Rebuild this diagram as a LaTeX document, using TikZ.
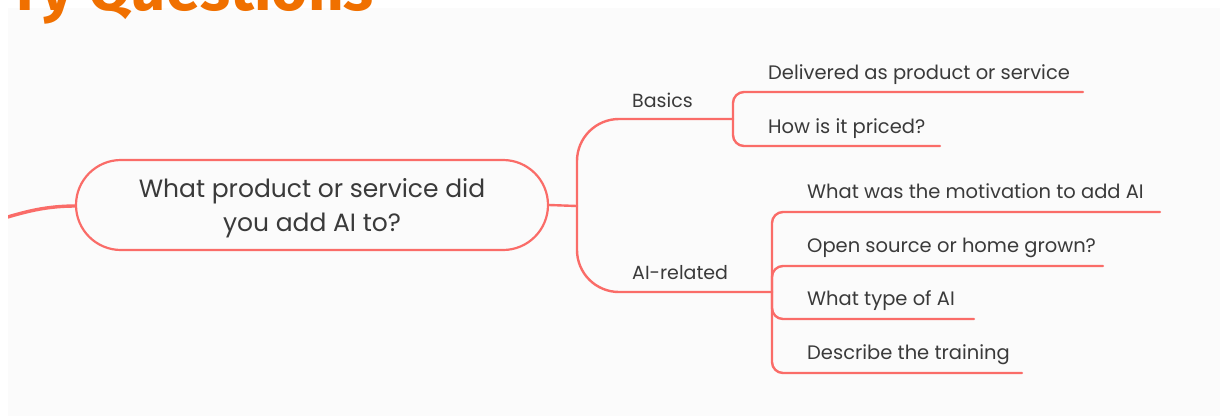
\documentclass[tikz,border=0pt]{standalone}
\usepackage{fontspec}
\setmainfont{Poppins}
\newfontfamily\titlefont{Fira Sans}
\usetikzlibrary{arrows, shapes}
\usetikzlibrary{calc}
\usetikzlibrary{positioning}
\definecolor{salmon}{RGB}{250,108,104}
\definecolor{inkgray}{RGB}{58,58,58}
\definecolor{paper}{RGB}{251,251,251}
\definecolor{titleorange}{RGB}{240,112,0}

\begin{document}
\begin{tikzpicture}[line cap=round,line join=round,x=1pt,y=-1pt,
  branch/.style={draw=salmon,line width=2.4pt},
  central/.style={draw=salmon,line width=2.2pt,fill=paper,rounded corners=45pt,minimum width=472pt,minimum height=90pt},
  centraltext/.style={align=center,font=\fontsize{25}{34}\selectfont,text=inkgray,inner sep=0pt},
  topic/.style={anchor=base west,font=\fontsize{19}{22}\selectfont,text=inkgray,inner sep=0pt},
  leaf/.style={anchor=base west,font=\fontsize{19.5}{22}\selectfont,text=inkgray,inner sep=0pt}]
\useasboundingbox (0,0) rectangle (1220,416);
\clip (0,0) rectangle (1220,416);
\fill[white] (0,0) rectangle (1220,416);
\fill[paper] (8,8) rectangle (1220,416);
\node[anchor=base east,text=titleorange,font=\titlefont\bfseries\fontsize{62}{70}\selectfont,inner sep=0pt] (title) at (374,10) {ry Questions};
\coordinate (offleft) at (-30,228);
\coordinate (hub) at (577,206);
\coordinate (basicsEnd) at (733,119);
\coordinate (airelEnd) at (772,292);
\coordinate (l1) at (1083,92);
\coordinate (l2) at (940,146);
\coordinate (l3) at (1160,212);
\coordinate (l4) at (1103,266);
\coordinate (l5) at (974,319);
\coordinate (l6) at (1022,373);
\begin{scope}
\clip (8,8) rectangle (1220,416);
\draw[draw=salmon,line width=3.4pt] (offleft) to[out=15,in=180] (76,206);
\end{scope}
\node[central] (root) at (312,205) {};
\node[centraltext] (roottext) at (312,208) {What product or service did\\you add AI to?};
\draw[branch] (root.east) -- (hub);
\draw[branch,rounded corners=42pt] (hub) |- (basicsEnd);
\draw[branch,rounded corners=42pt] (hub) |- (airelEnd);
\draw[branch,rounded corners=11pt] (basicsEnd) |- (l1);
\draw[branch,rounded corners=11pt] (basicsEnd) |- (l2);
\foreach \l in {l3,l4,l5,l6}
  \draw[branch,rounded corners=11pt] (airelEnd) |- (\l);
\node[topic] (basics) at (632,107) {Basics};
\node[topic] (airel) at (632,279) {AI-related};
\node[leaf] (delivered) at (768,79) {Delivered as product or service};
\node[leaf] (priced) at (768,133) {How is it priced?};
\node[leaf] (motivation) at (807,198) {What was the motivation to add AI};
\node[leaf] (opensource) at (807,252) {Open source or home grown?};
\node[leaf] (aitype) at (807,305) {What type of AI};
\node[leaf] (training) at (807,359) {Describe the training};
\end{tikzpicture}
\end{document}
